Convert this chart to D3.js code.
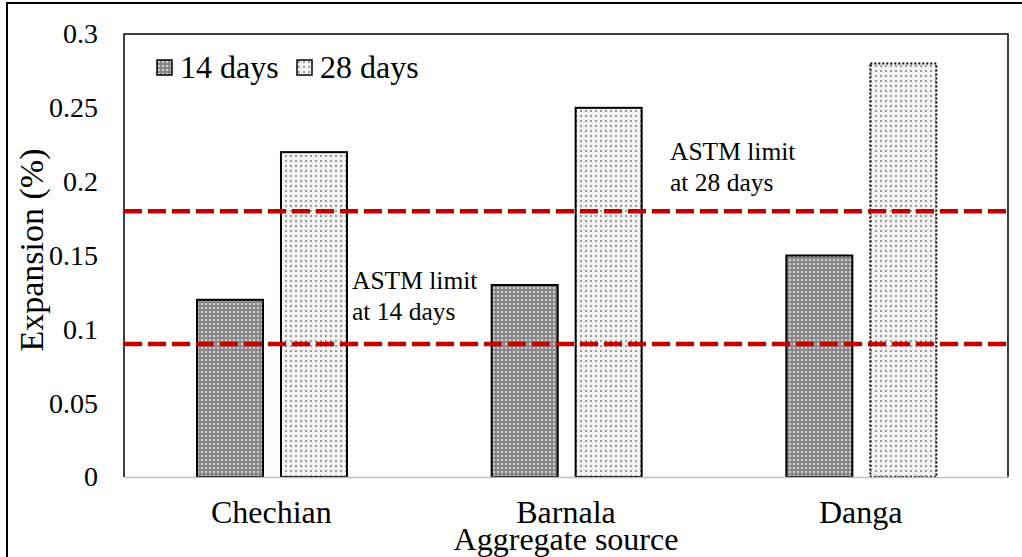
<!DOCTYPE html>
<head>
  <meta charset="utf-8">
  <script src="https://d3js.org/d3.v7.min.js"></script>
  <style>
    body { margin:0; background:#fff; }
    text { font-family: "Liberation Serif", "Times New Roman", serif; fill:#000; }
  </style>
</head>

<body>
  <script>

  // chart values
  var categories = ["Chechian", "Barnala", "Danga"];
  var seriesNames = ["14 days", "28 days"];
  var days14 = [0.12, 0.13, 0.15];
  var days28 = [0.22, 0.25, 0.28];
  var yTicks = [0, 0.05, 0.1, 0.15, 0.2, 0.25, 0.3];
  var limitValues = [0.09, 0.18];
  var limitLabels = [["ASTM limit", "at 14 days"], ["ASTM limit", "at 28 days"]];

  var totalWidth = 1022, totalHeight = 557;
  var margin = {top: 34, right: 14, bottom: 80, left: 124};
  var width = totalWidth - margin.left - margin.right,
      height = totalHeight - margin.top - margin.bottom;

  var svg = d3.select("body").append("svg")
    .attr("width", totalWidth)
    .attr("height", totalHeight);

  // fill patterns like the excel ones
  var defs = svg.append("defs");
  var p14 = defs.append("pattern").attr("id", "pat14")
    .attr("patternUnits", "userSpaceOnUse").attr("width", 4).attr("height", 4);
  p14.append("rect").attr("width", 4).attr("height", 4).attr("fill", "#888888");
  p14.append("rect").attr("x", 1).attr("y", 1).attr("width", 2).attr("height", 2).attr("fill", "#d0d0d0");

  var p28 = defs.append("pattern").attr("id", "pat28")
    .attr("patternUnits", "userSpaceOnUse").attr("width", 5).attr("height", 5);
  p28.append("rect").attr("width", 5).attr("height", 5).attr("fill", "#f3f3f3");
  p28.append("rect").attr("x", 1).attr("y", 1).attr("width", 2).attr("height", 2).attr("fill", "#999999");

  var fills = {"14 days": "url(#pat14)", "28 days": "url(#pat28)"};

  // outer frame of the figure
  svg.append("rect")
    .attr("x", 7).attr("y", 3)
    .attr("width", 1040).attr("height", 600)
    .attr("fill", "none").attr("stroke", "#000").attr("stroke-width", 2);

  var g = svg.append("g")
    .attr("transform", "translate(" + margin.left + "," + margin.top + ")");

  var x0 = d3.scaleBand()
    .domain(categories)
    .range([0, width])
    .padding(0);

  var x1 = d3.scaleBand()
    .domain(seriesNames)
    .range([73, 223])
    .paddingInner(0.214)
    .paddingOuter(0);

  var y = d3.scaleLinear()
    .domain([0, 0.3])
    .range([height, 0]);

  var barData = [];
  categories.forEach(function(c, i) {
    barData.push({cat: c, s: "14 days", v: days14[i]});
    barData.push({cat: c, s: "28 days", v: days28[i]});
  });

  // bars
  g.selectAll(".bar")
    .data(barData)
    .enter()
    .append("rect")
    .attr("class", "bar")
    .attr("x", function(d) { return x0(d.cat) + x1(d.s); })
    .attr("y", function(d) { return y(d.v); })
    .attr("width", x1.bandwidth())
    .attr("height", function(d) { return y(0) - y(d.v); })
    .attr("fill", function(d) { return fills[d.s]; })
    .attr("stroke", "#000")
    .attr("stroke-width", 2)
    .attr("stroke-dasharray", function(d) {
      return (d.cat === "Danga" && d.s === "28 days") ? "2,2" : null;
    });

  // plot frame: left, top, right in black, bottom axis in grey
  g.append("path")
    .attr("d", "M0," + height + "V0H" + width + "V" + height)
    .attr("fill", "none").attr("stroke", "#000").attr("stroke-width", 1.5);

  // left axis
  var axisLeft = d3.axisLeft(y)
    .tickValues(yTicks)
    .tickSize(0)
    .tickPadding(26)
    .tickFormat(function(d) { return String(d); });
  var yAxisG = g.append("g").call(axisLeft);
  yAxisG.select(".domain").remove();
  yAxisG.selectAll("text")
    .style("font-family", "Liberation Serif")
    .style("font-size", "28px");

  // bottom axis
  var axisBottom = d3.axisBottom(x0)
    .tickSize(0)
    .tickPadding(23);
  var xAxisG = g.append("g")
    .attr("transform", "translate(0," + height + ")")
    .call(axisBottom);
  xAxisG.select(".domain").attr("stroke", "#bfbfbf").attr("stroke-width", 1.5);
  xAxisG.selectAll("text")
    .style("font-family", "Liberation Serif")
    .style("font-size", "32px");

  // ASTM limit lines
  g.selectAll(".limit")
    .data(limitValues)
    .enter()
    .append("line")
    .attr("class", "limit")
    .attr("x1", 0)
    .attr("x2", width)
    .attr("y1", function(d) { return y(d); })
    .attr("y2", function(d) { return y(d); })
    .attr("stroke", "#c00000")
    .attr("stroke-width", 4.5)
    .attr("stroke-dasharray", "18,6");

  // limit annotations
  var annoX = [228, 546];
  var annoDy = [-55, -51];
  limitLabels.forEach(function(lines, i) {
    var t = g.append("text")
      .attr("x", annoX[i])
      .attr("y", y(limitValues[i]) + annoDy[i])
      .style("font-size", "25.5px");
    lines.forEach(function(line, j) {
      t.append("tspan")
        .attr("x", annoX[i])
        .attr("dy", j === 0 ? 0 : 31)
        .text(line);
    });
  });

  // legend
  var legend = g.selectAll(".legend")
    .data(seriesNames)
    .enter()
    .append("g")
    .attr("class", "legend")
    .attr("transform", function(d, i) { return "translate(" + (33 + i * 140) + ",26)"; });
  legend.append("rect")
    .attr("width", 15).attr("height", 15)
    .attr("fill", function(d) { return fills[d]; })
    .attr("stroke", "#000").attr("stroke-width", 1.5);
  legend.append("text")
    .attr("x", 23)
    .attr("y", 18)
    .style("font-size", "32px")
    .text(function(d) { return d; });

  // axis titles
  svg.append("text")
    .attr("transform", "translate(43,250) rotate(-90)")
    .attr("text-anchor", "middle")
    .style("font-size", "34px")
    .text("Expansion (%)");

  svg.append("text")
    .attr("x", margin.left + width / 2)
    .attr("y", 550)
    .attr("text-anchor", "middle")
    .style("font-size", "32px")
    .text("Aggregate source");

  </script>
</body>
